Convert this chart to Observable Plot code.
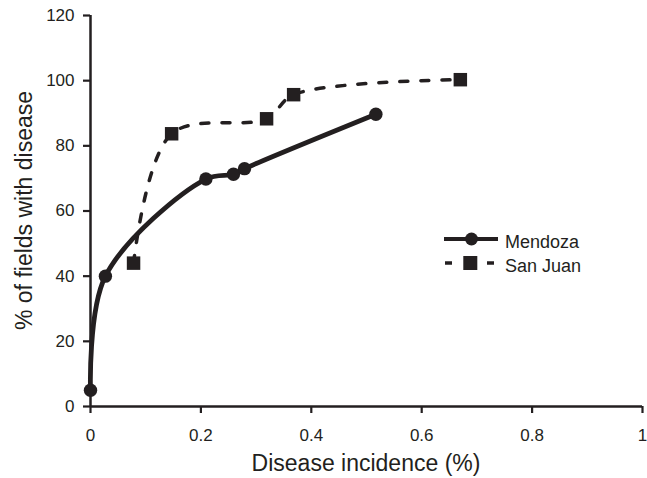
<!DOCTYPE html>
<html><head><meta charset="utf-8">
<script src="https://cdn.jsdelivr.net/npm/d3@7"></script>
<script src="https://cdn.jsdelivr.net/npm/@observablehq/plot@0.6"></script>
<style>body{margin:0;background:#fff} #chart{width:647px;height:478px}</style>
</head><body><div id="chart"></div>
<script>
const mendozaX = [0, 0.027, 0.209, 0.259, 0.279, 0.517];
const mendozaY = [5, 40, 69.8, 71.3, 73, 89.7];
const sanJuanX = [0.078, 0.147, 0.319, 0.368, 0.67];
const sanJuanY = [44, 83.7, 88.3, 95.7, 100.3];
const xTicks = [0, 0.2, 0.4, 0.6, 0.8, 1];
const yTicks = [0, 20, 40, 60, 80, 100, 120];
const seriesNames = ["Mendoza", "San Juan"];
const xTitle = "Disease incidence (%)";
const yTitle = "% of fields with disease";

const ink = "#231f20";
const font = "'Liberation Sans', Arial, Helvetica, sans-serif";
const mendoza = mendozaX.map((x, i) => ({x, y: mendozaY[i]}));
const sanJuan = sanJuanX.map((x, i) => ({x, y: sanJuanY[i]}));

const W = 647, H = 478;
const mL = 90, mR = 5, mT = 15, mB = 72;

const svg = Plot.plot({
  width: W, height: H,
  marginLeft: mL, marginRight: mR, marginTop: mT, marginBottom: mB,
  style: {fontFamily: font, fontSize: "17px", color: ink, background: "white", overflow: "visible"},
  x: {domain: [0, 1]},
  y: {domain: [0, 120]},
  marks: [
    Plot.axisX({ticks: xTicks, tickSize: 7, tickPadding: 15, label: null, strokeWidth: 2.2,
      tickFormat: d => String(+d.toFixed(1)), fontSize: 17}),
    Plot.axisY({ticks: yTicks, tickSize: 7, tickPadding: 9, label: null, strokeWidth: 2.2,
      tickFormat: d => String(d), fontSize: 17}),
    Plot.ruleX([0], {stroke: ink, strokeWidth: 2.5}),
    Plot.ruleY([0], {stroke: ink, strokeWidth: 2.5}),
    Plot.line(sanJuan, {x: "x", y: "y", curve: "catmull-rom", stroke: ink, strokeWidth: 3.5, strokeDasharray: "8,13"}),
    Plot.line(mendoza, {x: "x", y: "y", curve: "catmull-rom", stroke: ink, strokeWidth: 4.8}),
    Plot.dot(sanJuan, {x: "x", y: "y", symbol: "square", r: 7.6, fill: ink, stroke: "none"}),
    Plot.dot(mendoza, {x: "x", y: "y", symbol: "circle", r: 6.7, fill: ink, stroke: "none"})
  ]
});
document.getElementById("chart").appendChild(svg);

const s = d3.select(svg);
const frameCx = mL + (W - mL - mR) / 2;
const frameCy = mT + (H - mT - mB) / 2;

// axis titles
s.append("text").attr("x", frameCx).attr("y", 471).attr("text-anchor", "middle")
  .attr("font-family", font).attr("font-size", 23).attr("fill", ink).text(xTitle);
s.append("text").attr("transform", `translate(32,${frameCy}) rotate(-90)`).attr("text-anchor", "middle")
  .attr("font-family", font).attr("font-size", 23).attr("fill", ink).text(yTitle);

// legend
const lg = s.append("g").attr("font-family", font).attr("font-size", 18).attr("fill", ink)
  .attr("text-anchor", "start");
lg.append("line").attr("x1", 444).attr("x2", 498).attr("y1", 239).attr("y2", 239)
  .attr("stroke", ink).attr("stroke-width", 4);
lg.append("circle").attr("cx", 471.5).attr("cy", 239).attr("r", 6.5).attr("fill", ink);
lg.append("text").attr("x", 505).attr("y", 248).attr("text-anchor", "start").text(seriesNames[0]);
lg.append("line").attr("x1", 445).attr("x2", 452).attr("y1", 263).attr("y2", 263)
  .attr("stroke", ink).attr("stroke-width", 3.5);
lg.append("line").attr("x1", 487).attr("x2", 494).attr("y1", 263).attr("y2", 263)
  .attr("stroke", ink).attr("stroke-width", 3.5);
lg.append("rect").attr("x", 463.3).attr("y", 256).attr("width", 14).attr("height", 14).attr("fill", ink);
lg.append("text").attr("x", 505).attr("y", 272).attr("text-anchor", "start").text(seriesNames[1]);
</script>
</body></html>
